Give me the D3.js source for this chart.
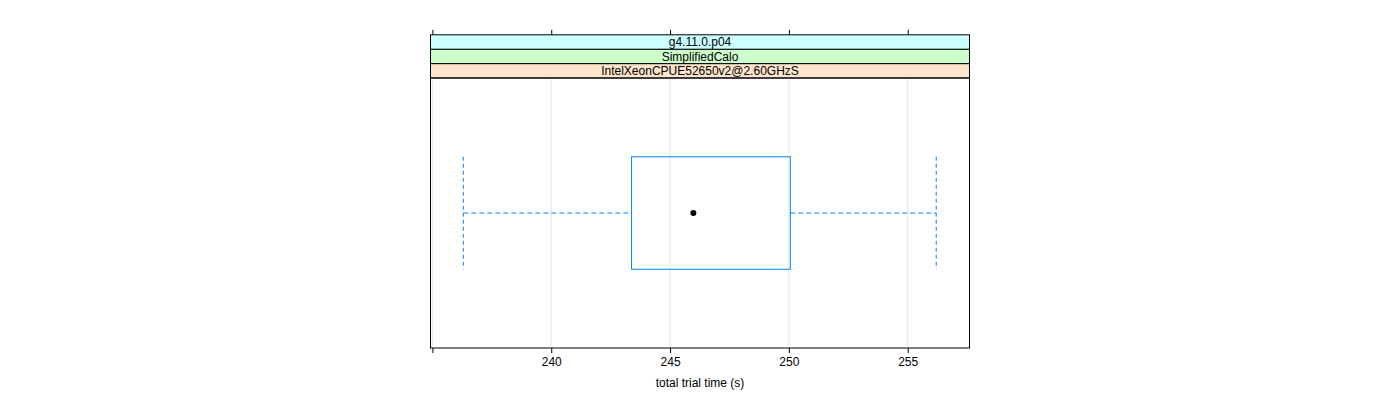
<!DOCTYPE html>
<html>
<head>
<meta charset="utf-8">
<script src="https://cdn.jsdelivr.net/npm/d3@7"></script>
<style>
body{margin:0;background:#fff;}
text{font-family:"Liberation Sans",Arial,Helvetica,sans-serif;}
</style>
</head>
<body>
<svg id="chart" width="1400" height="400"></svg>
<script>
// ---- data ----
const categories = ["IntelXeonCPUE52650v2@2.60GHzS"];
const stripLabels = ["IntelXeonCPUE52650v2@2.60GHzS", "SimplifiedCalo", "g4.11.0.p04"];
const stripColors = ["#ffe5cc", "#ccffcc", "#ccffff"];
const boxStats = [236.3, 243.38, 245.98, 250.06, 256.2]; // min, q1, median, q3, max
const tickValues = [235, 240, 245, 250, 255];
const tickLabels = ["", "240", "245", "250", "255"];
const xLabel = "total trial time (s)";

// ---- layout ----
const svg = d3.select("#chart");
const pLeft = 430.5, pRight = 969.5, pTop = 78, pBottom = 348;
const stripH = 14.4;

const x = d3.scaleLinear().domain([234.92, 257.6]).range([pLeft, pRight]);
const y = d3.scaleLinear().domain([0.4, 1.6]).range([pBottom, pTop]);
const boxHalf = 0.25;

// grid lines
svg.append("g").selectAll("line").data(tickValues).join("line")
  .attr("x1", d => x(d)).attr("x2", d => x(d))
  .attr("y1", pTop).attr("y2", pBottom)
  .attr("stroke", "#e8e8e8").attr("stroke-width", 1);

// strips
const strips = svg.append("g");
stripLabels.forEach((lab, i) => {
  const y1 = pTop - (i + 1) * stripH;
  strips.append("rect").attr("x", pLeft).attr("y", y1)
    .attr("width", pRight - pLeft).attr("height", stripH)
    .attr("fill", stripColors[i]).attr("stroke", "#000").attr("stroke-width", 1);
  strips.append("text").attr("x", (pLeft + pRight) / 2).attr("y", y1 + stripH / 2 + 4.3)
    .attr("text-anchor", "middle").attr("font-size", 12).attr("fill", "#000").text(lab);
});

// box plot
const g = svg.append("g");
const cy = y(1);
const col = "#0080ff";
categories.forEach(() => {
  const [mn, q1, md, q3, mx] = boxStats;
  g.append("line").attr("x1", x(mn)).attr("x2", x(q1)).attr("y1", cy).attr("y2", cy)
    .attr("stroke", col).attr("stroke-dasharray", "5,3").attr("stroke-width", 1);
  g.append("line").attr("x1", x(q3)).attr("x2", x(mx)).attr("y1", cy).attr("y2", cy)
    .attr("stroke", col).attr("stroke-dasharray", "5,3").attr("stroke-width", 1);
  [mn, mx].forEach(v => {
    g.append("line").attr("x1", x(v)).attr("x2", x(v))
      .attr("y1", y(1 + boxHalf)).attr("y2", y(1 - boxHalf))
      .attr("stroke", col).attr("stroke-dasharray", "4,3").attr("stroke-width", 1);
  });
  g.append("rect").attr("x", x(q1)).attr("y", y(1 + boxHalf))
    .attr("width", x(q3) - x(q1)).attr("height", y(1 - boxHalf) - y(1 + boxHalf))
    .attr("fill", "none").attr("stroke", col).attr("stroke-width", 1);
  g.append("circle").attr("cx", x(md)).attr("cy", cy).attr("r", 3).attr("fill", "#000");
});

// panel border
svg.append("rect").attr("x", pLeft).attr("y", pTop).attr("width", pRight - pLeft)
  .attr("height", pBottom - pTop).attr("fill", "none").attr("stroke", "#000").attr("stroke-width", 1);

// bottom axis
const axB = d3.axisBottom(x).tickValues(tickValues).tickFormat((d, i) => tickLabels[i])
  .tickSize(5).tickPadding(4);
const gb = svg.append("g").attr("transform", `translate(0,${pBottom})`).call(axB);
gb.select(".domain").remove();
gb.selectAll("text").attr("font-size", 12).attr("fill", "#000")
  .style("font-family", '"Liberation Sans",Arial,sans-serif');
gb.selectAll("line").attr("stroke", "#000");

// top axis
const topEdge = pTop - stripLabels.length * stripH;
const axT = d3.axisTop(x).tickValues(tickValues).tickFormat("").tickSize(5);
const gt = svg.append("g").attr("transform", `translate(0,${topEdge})`).call(axT);
gt.select(".domain").remove();
gt.selectAll("line").attr("stroke", "#000");

// x label
svg.append("text").attr("x", (pLeft + pRight) / 2).attr("y", 387)
  .attr("text-anchor", "middle").attr("font-size", 12).attr("fill", "#000").text(xLabel);
</script>
</body>
</html>
